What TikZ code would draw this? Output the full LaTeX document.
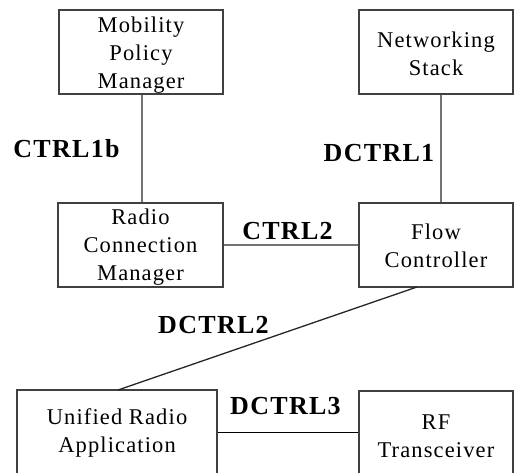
\documentclass[tikz,border=0pt]{standalone}
\usepackage{fontspec}
\setmainfont{Liberation Serif}
\newfontfamily\boxfont[LetterSpace=5]{Liberation Serif}
\newfontfamily\lblfont[LetterSpace=5]{Liberation Serif Bold}
\begin{document}
\begin{tikzpicture}[x=1pt,y=-1pt,
  box/.style={draw=black!75, line width=1.5pt, inner sep=0pt},
  boxtext/.style={inner sep=0pt, align=center,
    font=\boxfont\fontsize{22.5}{28}\selectfont},
  conn/.style={draw=black!55, line width=2pt},
  thin/.style={draw=black!85, line width=1.3pt},
  lbl/.style={anchor=base, inner sep=0pt, font=\lblfont\fontsize{26}{30}\selectfont}]
\useasboundingbox (0,0) rectangle (514,473);
\clip (0,0) rectangle (514,473);
\node[box, minimum width=164pt, minimum height=84pt,
  label={[boxtext, yshift=-3pt]center:Mobility\\Policy\\Manager}] (mpm) at (141,52) {};
\node[box, minimum width=154pt, minimum height=84pt,
  label={[boxtext, yshift=-2pt]center:Networking\\Stack}] (ns) at (436,52) {};
\node[box, minimum width=165pt, minimum height=84pt,
  label={[boxtext, yshift=-2pt]center:Radio\\Connection\\Manager}] (rcm) at (140.5,245) {};
\node[box, minimum width=154pt, minimum height=84pt,
  label={[boxtext, yshift=-1pt]center:Flow\\Controller}] (fc) at (436,245) {};
\node[box, minimum width=200pt, minimum height=100pt,
  label={[boxtext, yshift=7pt]center:Unified Radio\\Application}] (ura) at (117,440) {};
\node[box, minimum width=154pt, minimum height=100pt,
  label={[boxtext, yshift=5pt]center:RF\\Transceiver}] (rf) at (436,441) {};
\draw[conn] (mpm.south -| 142,0) -- (rcm.north -| 142,0);
\draw[conn] (ns.south -| 441,0) -- (fc.north -| 441,0);
\draw[conn] (rcm.east) -- (fc.west);
\coordinate (d2a) at (417,287);
\coordinate (d2b) at (118,390);
\draw[thin] (d2a) -- (d2b);
\draw[draw=black, line width=1pt] (ura.east |- 0,432) -- (rf.west |- 0,432);
\node[lbl] (l1) at (66.5,158) {CTRL1b};
\node[lbl] (l2) at (379,162) {DCTRL1};
\node[lbl] (l3) at (287.5,240) {CTRL2};
\node[lbl] (l4) at (213.5,333) {DCTRL2};
\node[lbl] (l5) at (285.5,414) {DCTRL3};
\end{tikzpicture}
\end{document}
